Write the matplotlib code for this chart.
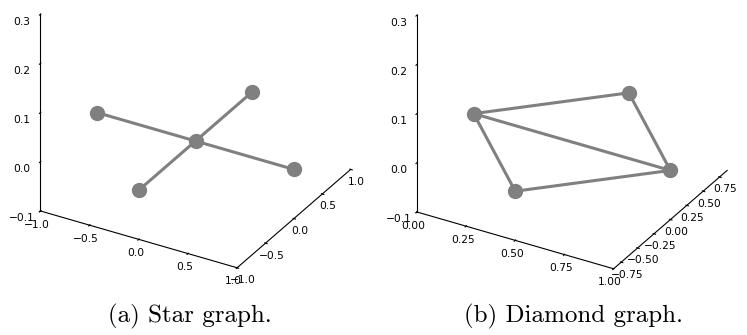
import matplotlib
matplotlib.use("Agg")
import matplotlib.pyplot as plt

# star graph: centre node 0 plus four leaves
star_x = [0.0, -1.0, 1.0, 0.0, 0.0]
star_y = [0.0, 0.0, 0.0, -1.0, 1.0]
star_z = [0.0, 0.0, 0.0, 0.0, 0.0]
star_edges = [(0, 1), (0, 2), (0, 3), (0, 4)]

# diamond graph
diamond_x = [0.0, 1.0, 0.5, 0.5]
diamond_y = [0.0, 0.0, 0.866, -0.866]
diamond_z = [0.0, 0.0, 0.0, 0.0]
diamond_edges = [(0, 1), (0, 2), (0, 3), (1, 2), (1, 3)]

star_ticks = [-1.0, -0.5, 0.0, 0.5, 1.0]
diamond_xticks = [0.0, 0.25, 0.5, 0.75, 1.0]
diamond_yticks = [-0.75, -0.5, -0.25, 0.0, 0.25, 0.5, 0.75]
z_ticks = [-0.1, 0.0, 0.1, 0.2, 0.3]

captions = ["(a) Star graph.", "(b) Diamond graph."]

COLOR = "grey"


def draw_graph(ax, xs, ys, zs, edges):
    for i, j in edges:
        ax.plot([xs[i], xs[j]], [ys[i], ys[j]], [zs[i], zs[j]],
                color=COLOR, lw=2.2, zorder=1)
    ax.scatter(xs, ys, zs, s=100, color=COLOR, alpha=1, depthshade=False, zorder=2)


def style(ax):
    ax.grid(False)
    for a in (ax.xaxis, ax.yaxis, ax.zaxis):
        a.pane.set_visible(False)
        a.line.set_color("black")
        a.line.set_linewidth(0.8)
        a._axinfo["tick"]["inward_factor"] = 0.1
        a._axinfo["tick"]["outward_factor"] = 0.05
    ax.zaxis.set_ticks_position("lower")
    ax.tick_params(labelsize=7.7, width=0.6)
    ax.xaxis.set_tick_params(pad=-4.5)
    ax.yaxis.set_tick_params(pad=-4.5)
    ax.zaxis.set_tick_params(pad=-1)
    ax.set_box_aspect((1, 1, 1), zoom=1.2)
    ax.view_init(elev=30, azim=-60)


fig = plt.figure(figsize=(7.47, 3.35), dpi=100)

ax1 = fig.add_axes([-0.004, 0.238, 0.52, 0.95], projection="3d", proj_type="ortho")
draw_graph(ax1, star_x, star_y, star_z, star_edges)
ax1.set_xlim(-1, 1)
ax1.set_ylim(-1, 1)
ax1.set_zlim(-0.1, 0.3)
ax1.set_xticks(star_ticks)
ax1.set_yticks(star_ticks)
ax1.set_zticks(z_ticks)
style(ax1)

ax2 = fig.add_axes([0.50, 0.235, 0.52, 0.95], projection="3d", proj_type="ortho")
draw_graph(ax2, diamond_x, diamond_y, diamond_z, diamond_edges)
ax2.set_xlim(0, 1)
ax2.set_ylim(-0.866, 0.866)
ax2.set_zlim(-0.1, 0.3)
ax2.set_xticks(diamond_xticks)
ax2.set_yticks(diamond_yticks)
ax2.set_zticks(z_ticks)
style(ax2)

fig.text(0.254, 0.055, captions[0], family="cmr10", fontsize=18, ha="center", va="center")
fig.text(0.768, 0.055, captions[1], family="cmr10", fontsize=18, ha="center", va="center")

fig.savefig("out.png", dpi=100)
